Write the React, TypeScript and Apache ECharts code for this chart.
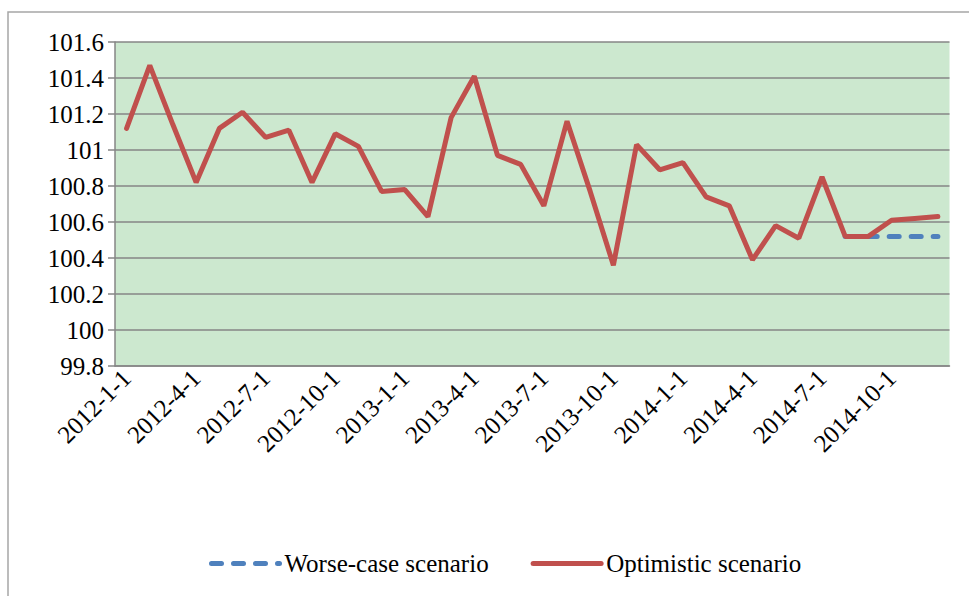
import React, { useEffect, useRef } from "react";
import * as echarts from "echarts";

const categories: string[] = [
  "2012-1-1", "2012-2-1", "2012-3-1", "2012-4-1", "2012-5-1", "2012-6-1",
  "2012-7-1", "2012-8-1", "2012-9-1", "2012-10-1", "2012-11-1", "2012-12-1",
  "2013-1-1", "2013-2-1", "2013-3-1", "2013-4-1", "2013-5-1", "2013-6-1",
  "2013-7-1", "2013-8-1", "2013-9-1", "2013-10-1", "2013-11-1", "2013-12-1",
  "2014-1-1", "2014-2-1", "2014-3-1", "2014-4-1", "2014-5-1", "2014-6-1",
  "2014-7-1", "2014-8-1", "2014-9-1", "2014-10-1", "2014-11-1", "2014-12-1",
];

const optimistic: number[] = [
  101.12, 101.47, 101.14, 100.82, 101.12, 101.21,
  101.07, 101.11, 100.82, 101.09, 101.02, 100.77,
  100.78, 100.63, 101.18, 101.41, 100.97, 100.92,
  100.69, 101.16, 100.77, 100.36, 101.03, 100.89,
  100.93, 100.74, 100.69, 100.39, 100.58, 100.51,
  100.85, 100.52, 100.52, 100.61, 100.62, 100.63,
];

const worseCase: (number | null)[] = [
  null, null, null, null, null, null,
  null, null, null, null, null, null,
  null, null, null, null, null, null,
  null, null, null, null, null, null,
  null, null, null, null, null, null,
  null, 100.52, 100.52, 100.52, 100.52, 100.52,
];

const yTicks = { min: 99.8, max: 101.6, interval: 0.2 };

const FONT = "Liberation Serif";
const GRAY = "#868686";

export default function App() {
  const ref = useRef<HTMLDivElement>(null);
  useEffect(() => {
    if (!ref.current) return;
    const chart = echarts.init(ref.current, undefined, { renderer: "svg" });
    chart.setOption({
      animation: false,
      backgroundColor: "#ffffff",
      textStyle: { fontFamily: FONT },
      graphic: [
        {
          type: "rect",
          shape: { x: 8, y: 12, width: 1000, height: 700 },
          style: { fill: "none", stroke: "#A6A6A6", lineWidth: 1.5 },
          silent: true,
          z: -1,
        },
      ],
      grid: {
        left: 115,
        top: 42,
        right: 19.5,
        bottom: 230,
        show: true,
        backgroundColor: "rgb(204,232,207)",
        borderWidth: 0,
      },
      legend: {
        left: 204,
        top: 546,
        itemWidth: 68,
        itemHeight: 14,
        itemGap: 42,
        itemStyle: { opacity: 0 },
        lineStyle: { width: 5, cap: "round" },
        textStyle: { fontFamily: FONT, fontSize: 25, color: "#000" },
        data: ["Worse-case scenario", "Optimistic scenario"],
      },
      xAxis: {
        type: "category",
        data: categories,
        boundaryGap: true,
        axisLine: { lineStyle: { color: GRAY, width: 1.5 } },
        axisTick: { interval: 2, length: 6, lineStyle: { color: GRAY, width: 1.5 } },
        axisLabel: {
          interval: 2,
          rotate: 45,
          margin: 8,
          fontFamily: FONT,
          fontSize: 25,
          color: "#000",
        },
        splitLine: { show: false },
      },
      yAxis: {
        type: "value",
        min: yTicks.min,
        max: yTicks.max,
        interval: yTicks.interval,
        axisLine: { show: true, lineStyle: { color: GRAY, width: 1.5 } },
        axisTick: { show: true, length: 7, lineStyle: { color: GRAY, width: 1.5 } },
        axisLabel: {
          margin: 11,
          fontFamily: FONT,
          fontSize: 25,
          color: "#000",
          formatter: (v: number) => String(Number(v.toFixed(1))),
        },
        splitLine: { show: true, lineStyle: { color: GRAY, width: 1.5 } },
      },
      series: [
        {
          name: "Worse-case scenario",
          type: "line",
          data: worseCase,
          symbol: "none",
          color: "#4F81BD",
          lineStyle: { color: "#4F81BD", width: 5, type: [10, 12], cap: "round" },
          z: 2,
        },
        {
          name: "Optimistic scenario",
          type: "line",
          data: optimistic,
          symbol: "none",
          color: "#C0504D",
          lineStyle: { color: "#C0504D", width: 5, cap: "round" },
          z: 3,
        },
      ],
    });
    return () => chart.dispose();
  }, []);
  return (
    <div
      ref={ref}
      style={{ position: "absolute", left: 0, top: 0, width: 969, height: 596 }}
    />
  );
}
